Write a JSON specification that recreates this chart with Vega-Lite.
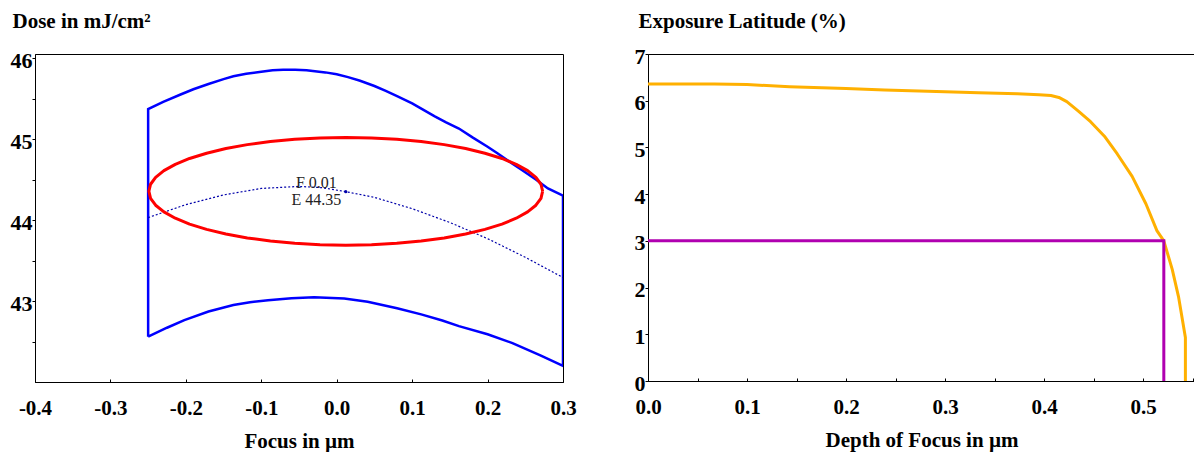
{
  "$schema": "https://vega.github.io/schema/vega-lite/v6.json",
  "padding": {"left": 9, "top": 9, "right": 0, "bottom": 0},
  "background": "white",
  "bounds": "flush",
  "spacing": 85,
  "config": {
    "view": {"stroke": "black", "strokeWidth": 1},
    "font": "Liberation Serif",
    "axis": {
      "grid": false,
      "domainColor": "black",
      "domainWidth": 1,
      "tickColor": "black",
      "tickWidth": 1,
      "labelColor": "black",
      "titleColor": "black",
      "labelFont": "Liberation Serif",
      "labelFontWeight": "bold",
      "titleFont": "Liberation Serif",
      "titleFontWeight": "bold",
      "titleFontSize": 21,
      "labelFlush": false,
      "labelOverlap": false,
      "labelBound": false
    },
    "axisX": {"tickSize": -3, "labelPadding": 35, "labelBaseline": "alphabetic", "labelFontSize": 21, "titleY": 65, "titleBaseline": "alphabetic"},
    "axisY": {"tickSize": 3, "labelPadding": 0, "labelBaseline": "alphabetic", "labelOffset": 9, "labelFontSize": 22, "titleAngle": 0, "titleAlign": "left", "titleBaseline": "alphabetic", "titleY": -27}
  },
  "datasets": {
    "outline": [
      {"i": 0, "f": -0.25, "d": 42.56},
      {"i": 1, "f": -0.25, "d": 45.37},
      {"i": 2, "f": -0.23, "d": 45.46},
      {"i": 3, "f": -0.207, "d": 45.55},
      {"i": 4, "f": -0.19, "d": 45.615},
      {"i": 5, "f": -0.17, "d": 45.68},
      {"i": 6, "f": -0.15, "d": 45.74},
      {"i": 7, "f": -0.137, "d": 45.775},
      {"i": 8, "f": -0.12, "d": 45.805},
      {"i": 9, "f": -0.1, "d": 45.83},
      {"i": 10, "f": -0.085, "d": 45.848},
      {"i": 11, "f": -0.071, "d": 45.856},
      {"i": 12, "f": -0.055, "d": 45.856},
      {"i": 13, "f": -0.04, "d": 45.85},
      {"i": 14, "f": -0.015, "d": 45.823},
      {"i": 15, "f": 0.0, "d": 45.8},
      {"i": 16, "f": 0.015, "d": 45.765},
      {"i": 17, "f": 0.031, "d": 45.72},
      {"i": 18, "f": 0.05, "d": 45.655},
      {"i": 19, "f": 0.065, "d": 45.595},
      {"i": 20, "f": 0.08, "d": 45.53},
      {"i": 21, "f": 0.1, "d": 45.44},
      {"i": 22, "f": 0.115, "d": 45.36},
      {"i": 23, "f": 0.13, "d": 45.28},
      {"i": 24, "f": 0.145, "d": 45.205},
      {"i": 25, "f": 0.162, "d": 45.13},
      {"i": 26, "f": 0.18, "d": 45.02},
      {"i": 27, "f": 0.2, "d": 44.905},
      {"i": 28, "f": 0.213, "d": 44.825},
      {"i": 29, "f": 0.23, "d": 44.715},
      {"i": 30, "f": 0.245, "d": 44.62},
      {"i": 31, "f": 0.264, "d": 44.5},
      {"i": 32, "f": 0.28, "d": 44.39},
      {"i": 33, "f": 0.3, "d": 44.3},
      {"i": 34, "f": 0.3, "d": 42.2},
      {"i": 35, "f": 0.27, "d": 42.33},
      {"i": 36, "f": 0.233, "d": 42.48},
      {"i": 37, "f": 0.2, "d": 42.59},
      {"i": 38, "f": 0.162, "d": 42.69},
      {"i": 39, "f": 0.14, "d": 42.76},
      {"i": 40, "f": 0.112, "d": 42.835},
      {"i": 41, "f": 0.08, "d": 42.91},
      {"i": 42, "f": 0.041, "d": 42.99},
      {"i": 43, "f": 0.01, "d": 43.03},
      {"i": 44, "f": -0.03, "d": 43.045},
      {"i": 45, "f": -0.06, "d": 43.035},
      {"i": 46, "f": -0.091, "d": 43.01},
      {"i": 47, "f": -0.115, "d": 42.985},
      {"i": 48, "f": -0.137, "d": 42.95},
      {"i": 49, "f": -0.17, "d": 42.87},
      {"i": 50, "f": -0.202, "d": 42.765},
      {"i": 51, "f": -0.225, "d": 42.67},
      {"i": 52, "f": -0.25, "d": 42.56}
    ],
    "ellipse": [
      {"i": 0, "f": 0.273, "d": 44.355},
      {"i": 1, "f": 0.2708, "d": 44.4418},
      {"i": 2, "f": 0.2641, "d": 44.5271},
      {"i": 3, "f": 0.2531, "d": 44.6095},
      {"i": 4, "f": 0.238, "d": 44.6875},
      {"i": 5, "f": 0.2191, "d": 44.7599},
      {"i": 6, "f": 0.1965, "d": 44.8252},
      {"i": 7, "f": 0.1709, "d": 44.8826},
      {"i": 8, "f": 0.1425, "d": 44.9309},
      {"i": 9, "f": 0.1119, "d": 44.9694},
      {"i": 10, "f": 0.0796, "d": 44.9973},
      {"i": 11, "f": 0.0461, "d": 45.0143},
      {"i": 12, "f": 0.012, "d": 45.02},
      {"i": 13, "f": -0.0221, "d": 45.0143},
      {"i": 14, "f": -0.0556, "d": 44.9973},
      {"i": 15, "f": -0.0879, "d": 44.9694},
      {"i": 16, "f": -0.1185, "d": 44.9309},
      {"i": 17, "f": -0.1469, "d": 44.8826},
      {"i": 18, "f": -0.1725, "d": 44.8252},
      {"i": 19, "f": -0.1951, "d": 44.7599},
      {"i": 20, "f": -0.214, "d": 44.6875},
      {"i": 21, "f": -0.2291, "d": 44.6095},
      {"i": 22, "f": -0.2401, "d": 44.5271},
      {"i": 23, "f": -0.2468, "d": 44.4418},
      {"i": 24, "f": -0.249, "d": 44.355},
      {"i": 25, "f": -0.2468, "d": 44.2682},
      {"i": 26, "f": -0.2401, "d": 44.1829},
      {"i": 27, "f": -0.2291, "d": 44.1005},
      {"i": 28, "f": -0.214, "d": 44.0225},
      {"i": 29, "f": -0.1951, "d": 43.9501},
      {"i": 30, "f": -0.1725, "d": 43.8848},
      {"i": 31, "f": -0.1469, "d": 43.8274},
      {"i": 32, "f": -0.1185, "d": 43.7791},
      {"i": 33, "f": -0.0879, "d": 43.7406},
      {"i": 34, "f": -0.0556, "d": 43.7127},
      {"i": 35, "f": -0.0221, "d": 43.6957},
      {"i": 36, "f": 0.012, "d": 43.69},
      {"i": 37, "f": 0.0461, "d": 43.6957},
      {"i": 38, "f": 0.0796, "d": 43.7127},
      {"i": 39, "f": 0.1119, "d": 43.7406},
      {"i": 40, "f": 0.1425, "d": 43.7791},
      {"i": 41, "f": 0.1709, "d": 43.8274},
      {"i": 42, "f": 0.1965, "d": 43.8848},
      {"i": 43, "f": 0.2191, "d": 43.9501},
      {"i": 44, "f": 0.238, "d": 44.0225},
      {"i": 45, "f": 0.2531, "d": 44.1005},
      {"i": 46, "f": 0.2641, "d": 44.1829},
      {"i": 47, "f": 0.2708, "d": 44.2682},
      {"i": 48, "f": 0.273, "d": 44.355}
    ],
    "center": [
      {"f": -0.25, "d": 44.03},
      {"f": -0.2, "d": 44.19},
      {"f": -0.15, "d": 44.31},
      {"f": -0.1, "d": 44.39},
      {"f": -0.05, "d": 44.415},
      {"f": -0.02, "d": 44.4},
      {"f": 0.012, "d": 44.35},
      {"f": 0.05, "d": 44.28},
      {"f": 0.1, "d": 44.14},
      {"f": 0.15, "d": 43.97},
      {"f": 0.2, "d": 43.77},
      {"f": 0.25, "d": 43.54},
      {"f": 0.3, "d": 43.29}
    ],
    "optimum": [{"f": 0.012, "d": 44.35}],
    "notes": [
      {"f": -0.027, "d": 44.457, "t": "F 0.01"},
      {"f": -0.027, "d": 44.247, "t": "E 44.35"}
    ],
    "latitude": [
      {"i": 0, "dof": 0, "el": 6.36},
      {"i": 1, "dof": 0.067, "el": 6.36},
      {"i": 2, "dof": 0.1, "el": 6.345},
      {"i": 3, "dof": 0.143, "el": 6.3},
      {"i": 4, "dof": 0.2, "el": 6.26},
      {"i": 5, "dof": 0.239, "el": 6.23},
      {"i": 6, "dof": 0.3, "el": 6.19},
      {"i": 7, "dof": 0.334, "el": 6.17},
      {"i": 8, "dof": 0.373, "el": 6.15},
      {"i": 9, "dof": 0.395, "el": 6.13},
      {"i": 10, "dof": 0.407, "el": 6.11},
      {"i": 11, "dof": 0.415, "el": 6.07},
      {"i": 12, "dof": 0.423, "el": 5.98},
      {"i": 13, "dof": 0.435, "el": 5.77},
      {"i": 14, "dof": 0.447, "el": 5.55},
      {"i": 15, "dof": 0.461, "el": 5.24},
      {"i": 16, "dof": 0.474, "el": 4.86},
      {"i": 17, "dof": 0.489, "el": 4.38},
      {"i": 18, "dof": 0.503, "el": 3.79},
      {"i": 19, "dof": 0.514, "el": 3.22},
      {"i": 20, "dof": 0.521, "el": 3.0},
      {"i": 21, "dof": 0.5295, "el": 2.39},
      {"i": 22, "dof": 0.536, "el": 1.79},
      {"i": 23, "dof": 0.5428, "el": 0.93},
      {"i": 24, "dof": 0.5428, "el": 0}
    ],
    "window": [
      {"i": 0, "dof": 0, "el": 3},
      {"i": 1, "dof": 0.521, "el": 3},
      {"i": 2, "dof": 0.521, "el": 0}
    ]
  },
  "hconcat": [
    {
      "width": 528,
      "height": 328,
      "layer": [
        {
          "data": {"name": "outline"},
          "mark": {"type": "line", "color": "#0000FF", "strokeWidth": 2.5, "clip": true},
          "encoding": {
            "x": {
              "field": "f", "type": "quantitative",
              "scale": {"domain": [-0.4, 0.3], "nice": false, "zero": false},
              "axis": {
                "title": "Focus in µm",
                "values": [-0.4, -0.35, -0.3, -0.25, -0.2, -0.15, -0.1, -0.05, 0, 0.05, 0.1, 0.15, 0.2, 0.25, 0.3],
                "labelExpr": "abs(datum.value*10 - round(datum.value*10)) < 0.001 ? replace(format(datum.value, '.1f'), '\u2212', '-') : ''"
              }
            },
            "y": {
              "field": "d", "type": "quantitative",
              "scale": {"domain": [42, 46.05], "nice": false, "zero": false},
              "axis": {
                "title": "Dose in mJ/cm²",
                "titleX": -23,
                "values": [42.5, 43, 43.5, 44, 44.5, 45, 45.5, 46],
                "labelExpr": "datum.value % 1 == 0 ? format(datum.value, 'd') : ''"
              }
            },
            "order": {"field": "i", "type": "quantitative"}
          }
        },
        {
          "data": {"name": "center"},
          "mark": {"type": "line", "color": "#0000AA", "strokeWidth": 1.2, "strokeDash": [2, 2]},
          "encoding": {
            "x": {"field": "f", "type": "quantitative"},
            "y": {"field": "d", "type": "quantitative"}
          }
        },
        {
          "data": {"name": "ellipse"},
          "mark": {"type": "line", "color": "#FF0000", "strokeWidth": 3, "strokeJoin": "round"},
          "encoding": {
            "x": {"field": "f", "type": "quantitative"},
            "y": {"field": "d", "type": "quantitative"},
            "order": {"field": "i", "type": "quantitative"}
          }
        },
        {
          "data": {"name": "optimum"},
          "mark": {"type": "point", "shape": "circle", "filled": true, "size": 10, "color": "#0000AA", "opacity": 1},
          "encoding": {
            "x": {"field": "f", "type": "quantitative"},
            "y": {"field": "d", "type": "quantitative"}
          }
        },
        {
          "data": {"name": "notes"},
          "mark": {"type": "text", "font": "Liberation Serif", "fontSize": 16, "color": "#222222", "align": "center", "baseline": "middle"},
          "encoding": {
            "x": {"field": "f", "type": "quantitative"},
            "y": {"field": "d", "type": "quantitative"},
            "text": {"field": "t"}
          }
        }
      ]
    },
    {
      "width": 547,
      "height": 327,
      "layer": [
        {
          "data": {"name": "latitude"},
          "mark": {"type": "line", "color": "#FFB000", "strokeWidth": 3, "strokeJoin": "round"},
          "encoding": {
            "x": {
              "field": "dof", "type": "quantitative",
              "scale": {"domain": [0, 0.5525], "nice": false, "zero": false},
              "axis": {
                "title": "Depth of Focus in µm",
                "values": [0, 0.05, 0.1, 0.15, 0.2, 0.25, 0.3, 0.35, 0.4, 0.45, 0.5, 0.55],
                "labelExpr": "abs(datum.value*10 - round(datum.value*10)) < 0.001 ? format(datum.value, '.1f') : ''"
              }
            },
            "y": {
              "field": "el", "type": "quantitative",
              "scale": {"domain": [0, 7], "nice": false, "zero": false},
              "axis": {
                "title": "Exposure Latitude (%)",
                "titleX": -10,
                "values": [0, 0.5, 1, 1.5, 2, 2.5, 3, 3.5, 4, 4.5, 5, 5.5, 6, 6.5, 7],
                "labelExpr": "datum.value % 1 == 0 ? format(datum.value, 'd') : ''"
              }
            },
            "order": {"field": "i", "type": "quantitative"}
          }
        },
        {
          "data": {"name": "window"},
          "mark": {"type": "line", "color": "#B000B0", "strokeWidth": 3},
          "encoding": {
            "x": {"field": "dof", "type": "quantitative"},
            "y": {"field": "el", "type": "quantitative"},
            "order": {"field": "i", "type": "quantitative"}
          }
        }
      ]
    }
  ]
}
